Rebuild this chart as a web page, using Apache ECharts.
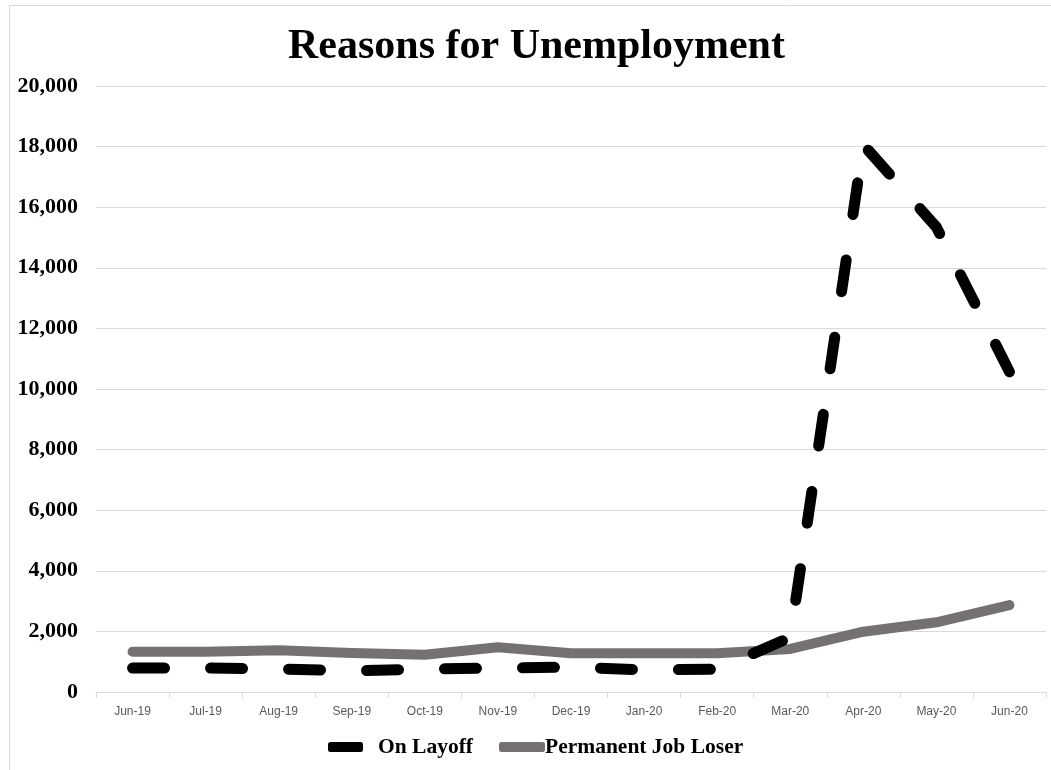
<!DOCTYPE html>
<html>
<head>
<meta charset="utf-8">
<script src="https://cdn.jsdelivr.net/npm/echarts@6/dist/echarts.min.js"></script>
<style>
html,body{margin:0;padding:0;background:#fff;}
#c{width:1051px;height:770px;}
</style>
</head>
<body>
<div id="c"></div>
<script>
const categories = ['Jun-19','Jul-19','Aug-19','Sep-19','Oct-19','Nov-19','Dec-19','Jan-20','Feb-20','Mar-20','Apr-20','May-20','Jun-20'];
const onLayoff = [790, 790, 760, 700, 760, 790, 820, 730, 750, 1800, 18063, 15343, 10565];
const permanentJobLoser = [1330, 1330, 1380, 1290, 1230, 1480, 1280, 1280, 1280, 1420, 1990, 2300, 2870];
const yTicks = { min: 0, max: 20000, interval: 2000 };

const legendText = { fontFamily: 'Liberation Serif', fontWeight: 'bold', fontSize: 21.5, color: '#000' };

const chart = echarts.init(document.getElementById('c'), null, {renderer:'canvas'});
chart.setOption({
  backgroundColor: '#fff',
  animation: false,
  graphic: [{
    type: 'rect', left: 7, top: 3,
    shape: { width: 1060, height: 790 },
    style: { fill: 'none', stroke: '#d9d9d9', lineWidth: 1 },
    silent: true
  }],
  title: {
    text: 'Reasons for Unemployment',
    left: 283, top: 21,
    textStyle: { fontFamily: 'Liberation Serif', fontWeight: 'bold', fontSize: 42, color: '#000' }
  },
  legend: [
    {
      top: 731, left: 323,
      itemWidth: 35, itemHeight: 10,
      icon: 'roundRect',
      textStyle: Object.assign({ padding: [0, 0, 0, 10] }, legendText),
      data: [{ name: 'On Layoff', itemStyle: { color: '#000' } }]
    },
    {
      top: 731, left: 494,
      itemWidth: 46, itemHeight: 10,
      icon: 'roundRect',
      textStyle: Object.assign({ padding: [0, 0, 0, -5] }, legendText),
      data: [{ name: 'Permanent Job Loser', itemStyle: { color: '#767171' } }]
    }
  ],
  grid: { left: 96, right: 5, top: 86, bottom: 78, containLabel: false },
  xAxis: {
    type: 'category', data: categories, boundaryGap: true,
    axisLine: { show: true, lineStyle: { color: '#d9d9d9', width: 1 } },
    axisTick: { show: true, length: 6, lineStyle: { color: '#d9d9d9' } },
    axisLabel: { fontFamily: 'Liberation Sans', fontSize: 12, color: '#595959', margin: 14 }
  },
  yAxis: {
    type: 'value', min: yTicks.min, max: yTicks.max, interval: yTicks.interval,
    axisLine: { show: false }, axisTick: { show: false },
    splitLine: { lineStyle: { color: '#d9d9d9', width: 1 } },
    axisLabel: {
      fontFamily: 'Liberation Serif', fontWeight: 'bold', fontSize: 22, color: '#000', margin: 18,
      padding: [6, 0, 0, 0],
      formatter: v => v.toLocaleString('en-US')
    }
  },
  series: [
    {
      name: 'On Layoff', type: 'line', data: onLayoff, symbol: 'none', z: 3,
      itemStyle: { color: '#000' },
      lineStyle: { color: '#000', width: 11, type: [32, 46], cap: 'round', join: 'round' }
    },
    {
      name: 'Permanent Job Loser', type: 'line', data: permanentJobLoser, symbol: 'none', z: 2,
      itemStyle: { color: '#767171' },
      lineStyle: { color: '#767171', width: 10, cap: 'round', join: 'round' }
    }
  ]
});
</script>
</body>
</html>
